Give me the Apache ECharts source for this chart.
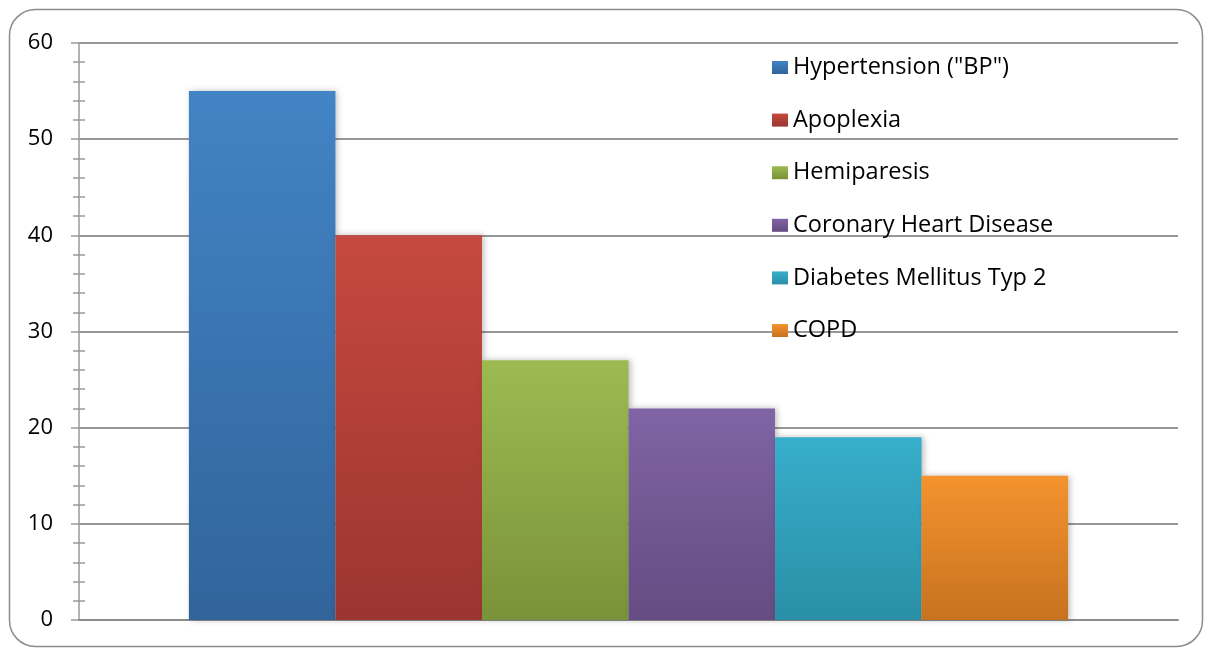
<!DOCTYPE html>
<html><head><meta charset="utf-8">
<script src="https://cdn.jsdelivr.net/npm/echarts@6/dist/echarts.min.js"></script>
<style>html,body{margin:0;padding:0;background:#fff}#c{width:1208px;height:650px}</style>
</head><body><div id="c"></div>
<script>
const categories = [''];
const seriesNames = ['Hypertension ("BP")','Apoplexia','Hemiparesis','Coronary Heart Disease','Diabetes Mellitus Typ 2','COPD'];
const seriesValues = [55, 40, 27, 22, 19, 15];
const topColors = ['#4284c5','#c6493f','#9bbb51','#8064a4','#37aecb','#f4932f'];
const bottomColors = ['#31649b','#9b3530','#7a9239','#654c82','#2a8fa6','#c7721f'];
const yTicks = [0,10,20,30,40,50,60];

const FONT = '"Open Sans", sans-serif';
const chart = echarts.init(document.getElementById('c'));
const grad = i => new echarts.graphic.LinearGradient(0,0,0,1,[{offset:0,color:topColors[i]},{offset:1,color:bottomColors[i]}]);
chart.setOption({
  animation:false,
  graphic:[{type:'rect',left:7,top:7,shape:{width:1193,height:637,r:26},style:{fill:'none',stroke:'#8c8c8c',lineWidth:1.5},z:-1}],
  grid:{left:79,right:30,top:43,bottom:30},
  legend:{orient:'vertical',left:772,top:55.5,padding:0,itemWidth:16,itemHeight:13,itemGap:28.6,
    icon:'rect',data:seriesNames,
    textStyle:{fontFamily:FONT,fontSize:23.5,color:'#000'}},
  xAxis:{type:'category',data:categories,axisLine:{show:true,lineStyle:{color:'#8c8c8c',width:2}},
    axisTick:{show:false},axisLabel:{show:false}},
  yAxis:[{type:'value',min:yTicks[0],max:yTicks[yTicks.length-1],interval:10,
    axisLine:{show:true,lineStyle:{color:'#9a9a9a',width:1.5}},
    axisTick:{show:true,length:8,lineStyle:{color:'#9a9a9a',width:1.5}},
    minorTick:{show:true,splitNumber:5,length:6,lineStyle:{color:'#9a9a9a',width:1.5}},
    splitLine:{show:true,lineStyle:{color:'#979797',width:1.8}},
    axisLabel:{fontFamily:FONT,fontSize:22,color:'#000',margin:26}},
   {type:'value',position:'left',min:0,max:60,interval:10,
    axisLine:{show:false},axisTick:{show:false,inside:true},
    minorTick:{show:true,splitNumber:5,length:6,lineStyle:{color:'#9a9a9a',width:1.5}},
    splitLine:{show:false},axisLabel:{show:false}}],
  series:seriesNames.map((n,i)=>({name:n,type:'bar',barGap:'0%',barCategoryGap:'20%',
    data:[seriesValues[i]],
    itemStyle:{color:grad(i),shadowColor:'rgba(0,0,0,0.25)',shadowBlur:6,shadowOffsetX:2,shadowOffsetY:0}}))
});
</script></body></html>
